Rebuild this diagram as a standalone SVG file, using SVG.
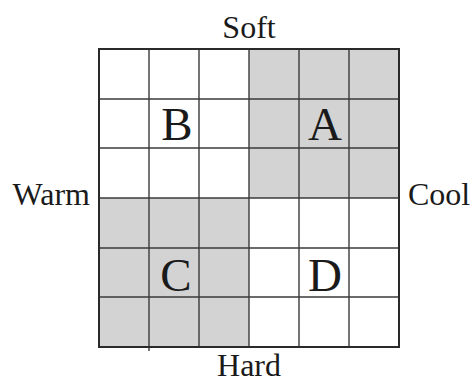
<svg xmlns="http://www.w3.org/2000/svg" width="471" height="380" viewBox="0 0 471 380">
<style>
.lbl{font-family:"Liberation Serif","Times New Roman",serif;font-size:32px;fill:#1a1a1a}
.big{font-family:"Liberation Serif","Times New Roman",serif;font-size:47px;fill:#1a1a1a;text-anchor:middle}
.shade{fill:#d3d3d3}
.grid line{stroke:#3a3a3a;stroke-width:1.4}
</style>
<rect width="471" height="380" fill="#fff"/>
<g id="quadrant-A"><rect class="shade" x="249" y="49" width="150" height="149"/><text class="big" x="325" y="140">A</text></g>
<g id="quadrant-B"><text class="big" x="177" y="140">B</text></g>
<g id="quadrant-C"><rect class="shade" x="99" y="198" width="150" height="149"/><text class="big" x="176" y="291">C</text></g>
<g id="quadrant-D"><text class="big" x="325" y="291">D</text></g>
<g id="connectors" class="grid">
<line x1="149" y1="49" x2="149" y2="351"/>
<line x1="199" y1="49" x2="199" y2="347"/>
<line x1="249" y1="49" x2="249" y2="347"/>
<line x1="299" y1="49" x2="299" y2="347"/>
<line x1="349" y1="49" x2="349" y2="347"/>
<line x1="99" y1="99" x2="399" y2="99"/>
<line x1="99" y1="148" x2="399" y2="148"/>
<line x1="99" y1="198" x2="399" y2="198"/>
<line x1="99" y1="248" x2="399" y2="248"/>
<line x1="99" y1="297" x2="399" y2="297"/>
<rect x="99" y="49" width="300" height="298" fill="none" stroke="#2a2a2a" stroke-width="2"/>
</g>
<g id="labels">
<text class="lbl" x="249" y="38" text-anchor="middle">Soft</text>
<text class="lbl" x="90" y="205" text-anchor="end">Warm</text>
<text class="lbl" x="408" y="205">Cool</text>
<text class="lbl" x="249" y="376" text-anchor="middle">Hard</text>
</g>
</svg>
